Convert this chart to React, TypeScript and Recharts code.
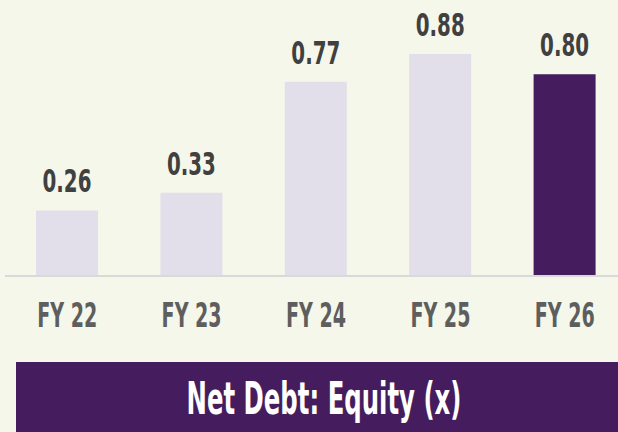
import React from 'react';
import { BarChart, Bar, XAxis, YAxis, Cell, LabelList } from 'recharts';

const categories = ['FY 22', 'FY 23', 'FY 24', 'FY 25', 'FY 26'];
const netDebtEquity = [0.26, 0.33, 0.77, 0.88, 0.8];
const valueLabels = ['0.26', '0.33', '0.77', '0.88', '0.80'];
const title = 'Net Debt: Equity (x)';

const data = categories.map((c, i) => ({ name: c, value: netDebtEquity[i], label: valueLabels[i] }));

const BG = '#f5f7ea';
const LIGHT = '#e2dfeb';
const DARK = '#451d5e';
const FONT = "'Liberation Sans Narrow', 'DejaVu Sans Condensed', 'Roboto', sans-serif";
const HIGHLIGHT_INDEX = categories.length - 1;

let ctx: CanvasRenderingContext2D | null = null;
function measure(text: string, size: number): number {
  if (!ctx) ctx = document.createElement('canvas').getContext('2d');
  if (!ctx) return text.length * size * 0.55;
  ctx.font = `700 ${size}px ${FONT}`;
  return ctx.measureText(text).width || text.length * size * 0.55;
}

const FittedText = ({ x, y, size, width, fill, text }: any) => {
  const sx = width / measure(text, size);
  return (
    <text
      transform={`translate(${x} ${y}) scale(${sx} 1)`}
      x={0}
      y={0}
      textAnchor="middle"
      fill={fill}
      fontFamily={FONT}
      fontWeight={700}
      fontSize={size}
    >
      {text}
    </text>
  );
};

const Tick = (props: any) => {
  const { x, y, payload } = props;
  return <FittedText x={x} y={y + 51} size={33} width={60} fill="#5e5e5e" text={payload.value} />;
};

const ValueLabel = (props: any) => {
  const { x, y, width, index } = props;
  return <FittedText x={x + width / 2} y={y - 18} size={32} width={49} fill="#404040" text={valueLabels[index]} />;
};

export default function App() {
  return (
    <div
      style={{
        position: 'absolute',
        left: 0,
        top: 0,
        width: 618,
        height: 432,
        background: BG,
      }}
    >
      <BarChart width={618} height={432} data={data} margin={{ top: 0, right: 0, left: 5, bottom: 0 }}>
        <YAxis hide domain={[0, 1.094]} />
        <XAxis
          dataKey="name"
          height={156}
          tickLine={false}
          tickSize={0}
          tickMargin={0}
          padding={{ left: 0, right: -9 }}
          axisLine={{ stroke: '#d9d9d9', strokeWidth: 2 }}
          tick={<Tick />}
          interval={0}
        />
        <Bar dataKey="value" barSize={62} isAnimationActive={false}>
          {data.map((d, i) => (
            <Cell key={d.name} fill={i === HIGHLIGHT_INDEX ? DARK : LIGHT} />
          ))}
          <LabelList dataKey="label" content={<ValueLabel />} />
        </Bar>
      </BarChart>
      <div
        style={{
          position: 'absolute',
          left: 16,
          top: 362,
          width: 602,
          height: 70,
          background: DARK,
        }}
      >
        <svg width={602} height={70} style={{ display: 'block' }}>
          <FittedText x={308} y={52} size={44} width={275} fill="#ffffff" text={title} />
        </svg>
      </div>
    </div>
  );
}
